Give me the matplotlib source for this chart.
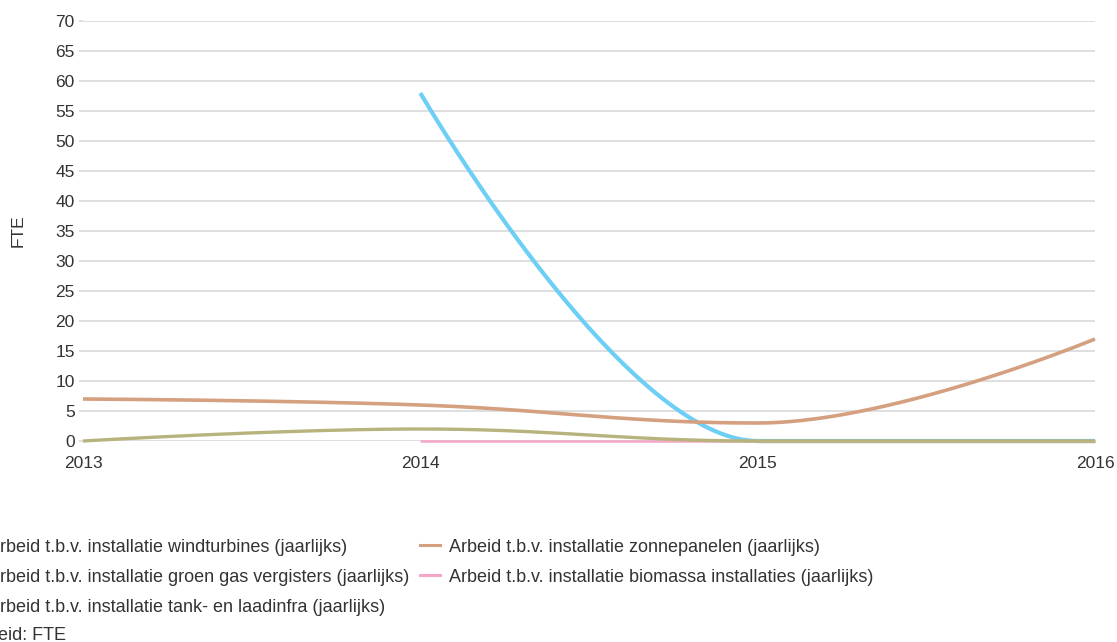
import numpy as np
import matplotlib
matplotlib.use("Agg")
import matplotlib.pyplot as plt
from matplotlib.lines import Line2D

plt.rcParams['font.family'] = ['Liberation Sans', 'DejaVu Sans']

years = [2013, 2014, 2015, 2016]
windturbines = [None, 58, 0, 0]
zonnepanelen = [7, 6, 3, 17]
groen_gas = [None, None, 0, 0]
biomassa = [None, 0, 0, 0]
tank_laadinfra = [0, 2, 0, 0]

series = [
    ("Arbeid t.b.v. installatie windturbines (jaarlijks)", windturbines, '#6ecff6', 3.0),
    ("Arbeid t.b.v. installatie zonnepanelen (jaarlijks)", zonnepanelen, '#d4a07f', 2.6),
    ("Arbeid t.b.v. installatie groen gas vergisters (jaarlijks)", groen_gas, '#b7b37d', 2.4),
    ("Arbeid t.b.v. installatie biomassa installaties (jaarlijks)", biomassa, '#f4a7c9', 1.8),
    ("Arbeid t.b.v. installatie tank- en laadinfra (jaarlijks)", tank_laadinfra, '#b7b37d', 2.4),
]
y_ticks = list(range(0, 75, 5))
unit_text = "Eenheid: FTE"


def smooth(xs, ys, n=80):
    # spline like the web chart: bezier segments with 1.5 smoothing
    pts = [(x, y) for x, y in zip(xs, ys) if y is not None]
    px = [p[0] for p in pts]
    py = [p[1] for p in pts]
    k = len(px)
    left = [None] * k
    right = [None] * k
    for i in range(1, k - 1):
        x, y = px[i], py[i]
        lx, ly = px[i - 1], py[i - 1]
        nx, ny = px[i + 1], py[i + 1]
        lcx = (1.5 * x + lx) / 2.5
        lcy = (1.5 * y + ly) / 2.5
        rcx = (1.5 * x + nx) / 2.5
        rcy = (1.5 * y + ny) / 2.5
        corr = (rcy - lcy) * (rcx - x) / (rcx - lcx) + y - rcy
        lcy += corr
        rcy += corr
        if lcy > ly and lcy > y:
            lcy = max(ly, y); rcy = 2 * y - lcy
        elif lcy < ly and lcy < y:
            lcy = min(ly, y); rcy = 2 * y - lcy
        if rcy > ny and rcy > y:
            rcy = max(ny, y); lcy = 2 * y - rcy
        elif rcy < ny and rcy < y:
            rcy = min(ny, y); lcy = 2 * y - rcy
        left[i] = (lcx, lcy)
        right[i] = (rcx, rcy)
    t = np.linspace(0, 1, n)
    outx, outy = [], []
    for i in range(1, k):
        p0 = (px[i - 1], py[i - 1])
        p3 = (px[i], py[i])
        p1 = right[i - 1] or p0
        p2 = left[i] or p3
        bx = (1 - t) ** 3 * p0[0] + 3 * (1 - t) ** 2 * t * p1[0] + 3 * (1 - t) * t ** 2 * p2[0] + t ** 3 * p3[0]
        by = (1 - t) ** 3 * p0[1] + 3 * (1 - t) ** 2 * t * p1[1] + 3 * (1 - t) * t ** 2 * p2[1] + t ** 3 * p3[1]
        outx.extend(bx)
        outy.extend(by)
    return outx, outy


W, H = 1117, 642
fig = plt.figure(figsize=(W / 100, H / 100), dpi=100)
ax = fig.add_axes([83 / W, 1 - 441 / H, (1095 - 83) / W, (441 - 21) / H])

for z, (name, vals, col, lw) in enumerate(series):
    sx, sy = smooth(years, vals)
    ax.plot(sx, sy, color=col, lw=lw, zorder=3 + z, clip_on=False,
            solid_capstyle='butt')

ax.set_xlim(2013, 2016)
ax.set_ylim(0, 70)
ax.set_xticks(years)
ax.set_xticklabels([str(y) for y in years])
ax.set_yticks(y_ticks)
ax.grid(axis='y', color='#d6d6d6', lw=1.1, zorder=0)
ax.grid(axis='x', visible=False)
for s in ax.spines.values():
    s.set_visible(False)
ax.tick_params(axis='y', length=3, width=1.1, color='#d6d6d6', pad=2.9,
               labelsize=12.5, labelcolor='#333333')
ax.tick_params(axis='x', length=0, pad=10.5, labelsize=12.5, labelcolor='#333333')
ax.set_ylabel("FTE", fontsize=12.5, color='#333333')
ax.yaxis.set_label_coords((26 - 83) / (1095 - 83), 0.5)

# legend laid out in two columns, first column partly off the left edge
col_x = [-41, 420]
row_y = [545, 575, 605]
order = [(0, 0, 0), (1, 1, 0), (2, 0, 1), (3, 1, 1), (4, 0, 2)]
for idx, c, r in order:
    name, vals, col, lw = series[idx]
    x0 = col_x[c]
    y0 = row_y[r]
    fig.add_artist(Line2D([x0 / W, (x0 + 20) / W], [1 - y0 / H, 1 - y0 / H],
                          color=col, lw=2.2, transform=fig.transFigure))
    fig.text((x0 + 29) / W, 1 - y0 / H, name, fontsize=13, color='#333333',
             ha='left', va='center_baseline')

fig.text(-44 / W, 1 - 633 / H, unit_text, fontsize=13, color='#333333',
         ha='left', va='center_baseline')

fig.savefig("out.png", dpi=100)
